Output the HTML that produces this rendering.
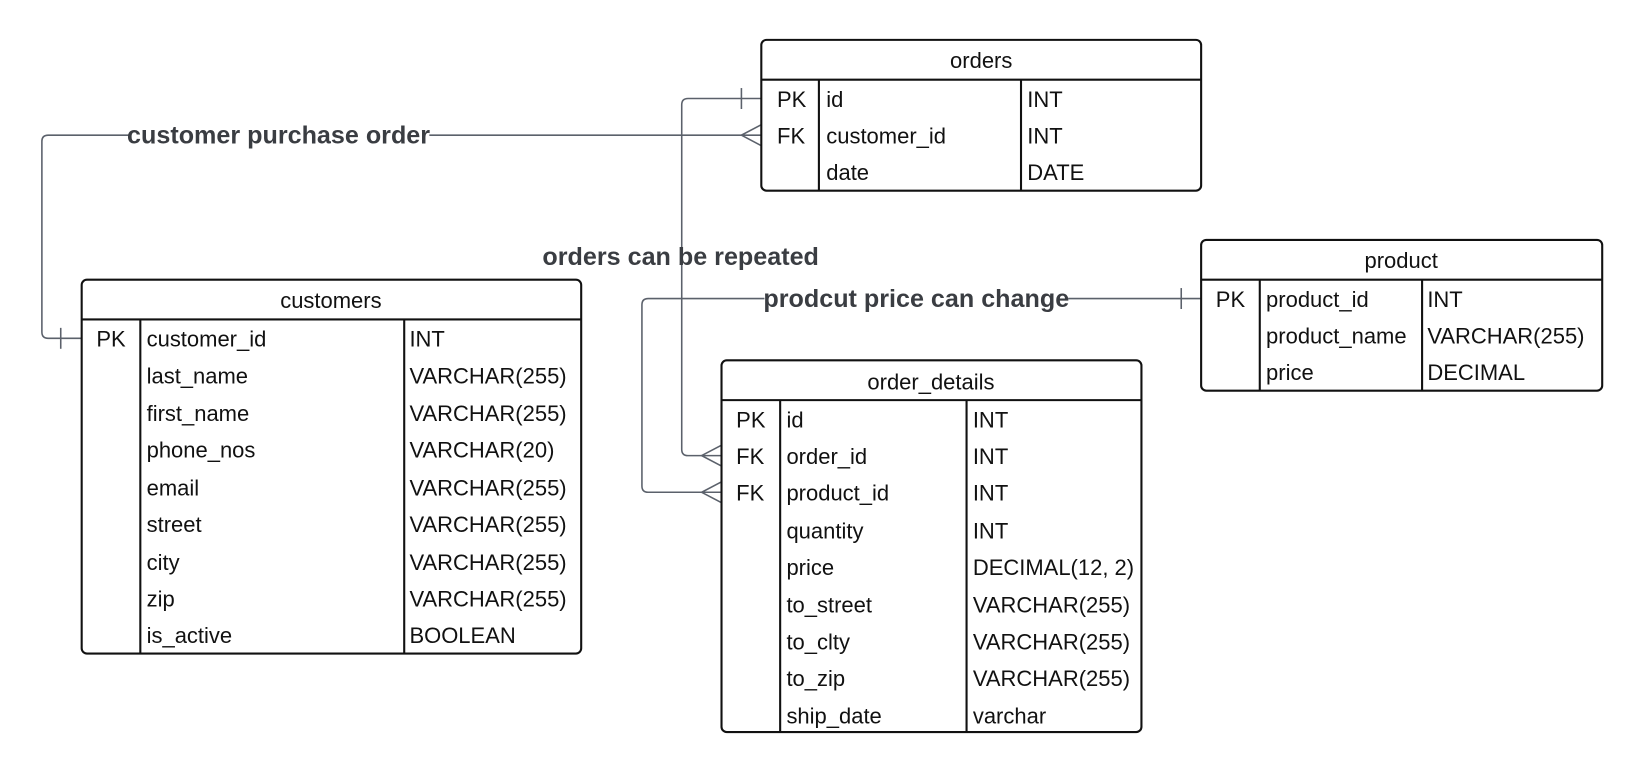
<!DOCTYPE html>
<html><head><meta charset="utf-8"><style>
html,body{margin:0;padding:0;background:#fff;}
svg{display:block;}
text{font-family:"Liberation Sans",Arial,sans-serif;font-size:21px;fill:#111;}
.lb{font-weight:bold;font-size:24px;fill:#3a3d42;}
.c{fill:none;stroke:#5b616b;stroke-width:1.5;}
.t{fill:none;stroke:#111;stroke-width:2;}
</style></head><body>
<svg width="1642" height="773" viewBox="0 0 1568 738" xmlns="http://www.w3.org/2000/svg">
<!-- connectors -->
<path class="c" d="M78 323 H46 Q40 323 40 317 V135 Q40 129 46 129 H727"/>
<path class="c" d="M58 313 V333"/>
<path class="c" d="M727 119 L708 129 L727 139"/>
<path class="c" d="M727 94 H657 Q651 94 651 100 V429 Q651 435 657 435 H689"/>
<path class="c" d="M708 84 V104"/>
<path class="c" d="M689 425 L670 435 L689 445"/>
<path class="c" d="M1147 285 H619 Q613 285 613 291 V464 Q613 470 619 470 H689"/>
<path class="c" d="M1128 275 V295"/>
<path class="c" d="M689 460 L670 470 L689 480"/>
<rect x="124" y="116" width="286" height="26" fill="#fff"/>
<text class="lb" x="266" y="137" text-anchor="middle">customer purchase order</text>
<rect x="730" y="272" width="290" height="26" fill="#fff"/>
<text class="lb" x="875" y="293" text-anchor="middle">prodcut price can change</text>
<text class="lb" x="650" y="253" text-anchor="middle">orders can be repeated</text>

<!-- orders -->
<rect class="t" x="727" y="38" width="420" height="144" rx="5" fill="#fff"/>
<path class="t" d="M727 76 H1147 M782 76 V182 M975 76 V182"/>
<text x="937" y="65" text-anchor="middle">orders</text>
<text x="742" y="102">PK</text><text x="789" y="102">id</text><text x="981" y="102">INT</text>
<text x="742" y="137">FK</text><text x="789" y="137">customer_id</text><text x="981" y="137">INT</text>
<text x="789" y="172">date</text><text x="981" y="172">DATE</text>

<!-- customers -->
<rect class="t" x="78" y="267" width="477" height="357" rx="5" fill="#fff"/>
<path class="t" d="M78 305 H555 M134 305 V624 M386 305 V624"/>
<text x="316" y="294" text-anchor="middle">customers</text>
<text x="92" y="331">PK</text><text x="140" y="331">customer_id</text><text x="391" y="331">INT</text>
<text x="140" y="366">last_name</text><text x="391" y="366">VARCHAR(255)</text>
<text x="140" y="402">first_name</text><text x="391" y="402">VARCHAR(255)</text>
<text x="140" y="437">phone_nos</text><text x="391" y="437">VARCHAR(20)</text>
<text x="140" y="473">email</text><text x="391" y="473">VARCHAR(255)</text>
<text x="140" y="508">street</text><text x="391" y="508">VARCHAR(255)</text>
<text x="140" y="544">city</text><text x="391" y="544">VARCHAR(255)</text>
<text x="140" y="579">zip</text><text x="391" y="579">VARCHAR(255)</text>
<text x="140" y="614">is_active</text><text x="391" y="614">BOOLEAN</text>

<!-- order_details -->
<rect class="t" x="689" y="344" width="401" height="355" rx="5" fill="#fff"/>
<path class="t" d="M689 382 H1090 M745 382 V699 M923 382 V699"/>
<text x="889" y="372" text-anchor="middle">order_details</text>
<text x="703" y="408">PK</text><text x="751" y="408">id</text><text x="929" y="408">INT</text>
<text x="703" y="443">FK</text><text x="751" y="443">order_id</text><text x="929" y="443">INT</text>
<text x="703" y="478">FK</text><text x="751" y="478">product_id</text><text x="929" y="478">INT</text>
<text x="751" y="514">quantity</text><text x="929" y="514">INT</text>
<text x="751" y="549">price</text><text x="929" y="549">DECIMAL(12, 2)</text>
<text x="751" y="585">to_street</text><text x="929" y="585">VARCHAR(255)</text>
<text x="751" y="620">to_clty</text><text x="929" y="620">VARCHAR(255)</text>
<text x="751" y="655">to_zip</text><text x="929" y="655">VARCHAR(255)</text>
<text x="751" y="691">ship_date</text><text x="929" y="691">varchar</text>

<!-- product -->
<rect class="t" x="1147" y="229" width="383" height="144" rx="5" fill="#fff"/>
<path class="t" d="M1147 267 H1530 M1203 267 V373 M1358 267 V373"/>
<text x="1338" y="256" text-anchor="middle">product</text>
<text x="1161" y="293">PK</text><text x="1209" y="293">product_id</text><text x="1363" y="293">INT</text>
<text x="1209" y="328">product_name</text><text x="1363" y="328">VARCHAR(255)</text>
<text x="1209" y="363">price</text><text x="1363" y="363">DECIMAL</text>
</svg>
</body></html>
